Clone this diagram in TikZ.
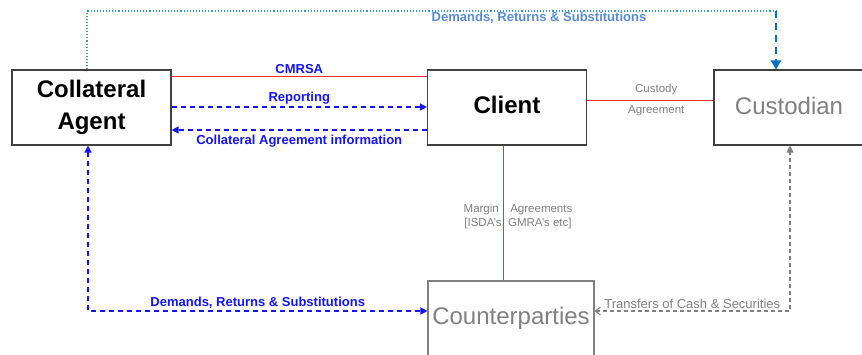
\documentclass[tikz,border=0pt]{standalone}
\usepackage{fontspec}
\setmainfont{Liberation Sans}
\usetikzlibrary{arrows.meta}

\definecolor{boxgray}{RGB}{64,64,64}
\definecolor{textgray}{RGB}{128,128,128}
\definecolor{linkred}{RGB}{235,50,50}
\definecolor{linkblue}{RGB}{20,20,245}
\definecolor{skyblue}{RGB}{60,150,220}
\definecolor{skytext}{RGB}{88,140,212}
\definecolor{deepblue}{RGB}{0,112,192}

\begin{document}
\begin{tikzpicture}[x=1pt,y=-1pt,
    party node/.style={draw=boxgray,line width=1.1pt,minimum width=159pt,minimum height=75pt,
        inner sep=0pt,align=center,font=\fontsize{24}{32}\selectfont\bfseries},
    red link/.style={draw=linkred,line width=0.9pt},
    blue link/.style={draw=linkblue,line width=1.2pt,dash pattern=on 5pt off 4pt,
        arrows={-Triangle[length=7pt,width=7pt]}},
    blue label/.style={text=linkblue,font=\fontsize{13}{15}\selectfont\bfseries,inner sep=2pt},
    gray label/.style={text=textgray,font=\fontsize{11.5}{14}\selectfont,inner sep=2pt}]

    % Define boundary
    \useasboundingbox (0,0) rectangle (862,354);
    \coordinate (topy) at (0,11);

    % Define parties
    \node[party node] (agent) at (91.5,107.5) {\raisebox{-3pt}{Collateral}\\\raisebox{-3pt}{Agent}};
    \node[party node] (client) at (507,107.5) {\raisebox{5pt}{Client}};
    \node[party node,minimum width=150pt,text=textgray,font=\fontsize{24}{31}\selectfont] (custodian) at (789,107.5) {\raisebox{3.5pt}{Custodian}};
    \node[party node,minimum width=166pt,draw=textgray,text=textgray,font=\fontsize{24}{31}\selectfont] (cparties) at (511,318.5) {\raisebox{-5pt}{Counterparties}};

    % Draw agreements
    \path[red link]
        ([yshift=-7pt]agent.north east) edge node[above,blue label] {CMRSA} ([yshift=-7pt]client.north west)
        ([yshift=7.5pt]client.east) edge node[above,gray label,inner sep=5pt,xshift=6pt] {Custody}
            node[below,gray label,inner sep=5pt,xshift=6pt] {Agreement} ([yshift=7.5pt]custodian.west)
        ([xshift=-4pt]client.south) edge ([xshift=-4pt]client.south |- cparties.north);
    \node[gray label,align=center] (margin) at (518,217) {Margin\quad Agreements\\{[}ISDA’s, GMRA’s etc{]}};

    % Draw information flows
    \draw[blue link] ([yshift=0.5pt]agent.east) -- node[above,blue label] {Reporting} ([yshift=0.5pt]client.west);
    \draw[blue link] ([yshift=-22.5pt]client.west) -- node[below,blue label,inner sep=4pt] {Collateral Agreement information} ([yshift=-22.5pt]agent.east);
    \draw[blue link,arrows={Triangle[length=7pt,width=7pt]-Triangle[length=7pt,width=7pt]}]
        ([xshift=-3.5pt]agent.south) |- node[pos=0.75,above,blue label] {Demands, Returns \& Substitutions} ([yshift=7.5pt]cparties.west);

    % Draw top instruction
    \draw[skyblue,line width=1.1pt,dotted] ([xshift=-4.5pt]agent.north) -- ([xshift=-4.5pt]agent.north |- topy)
        -- node[pos=0.656,below,blue label,text=skytext,inner sep=1pt] {Demands, Returns \& Substitutions} ([xshift=-13pt]custodian.north |- topy);
    \draw[deepblue,line width=2pt,dash pattern=on 7pt off 5pt,-{Triangle[length=9pt,width=10pt]}]
        ([xshift=-13pt]custodian.north |- topy) -- ([xshift=-13pt]custodian.north);

    % Draw transfers
    \draw[textgray,line width=1.1pt,dash pattern=on 4pt off 3pt,{Straight Barb[length=5pt,width=8pt]}-{Triangle[length=7pt,width=7pt]}]
        ([yshift=7.5pt]cparties.east) -| node[pos=0.25,above,gray label,font=\fontsize{13}{15}\selectfont] {Transfers of Cash \& Securities} ([xshift=1pt]custodian.south);

\end{tikzpicture}
\end{document}
